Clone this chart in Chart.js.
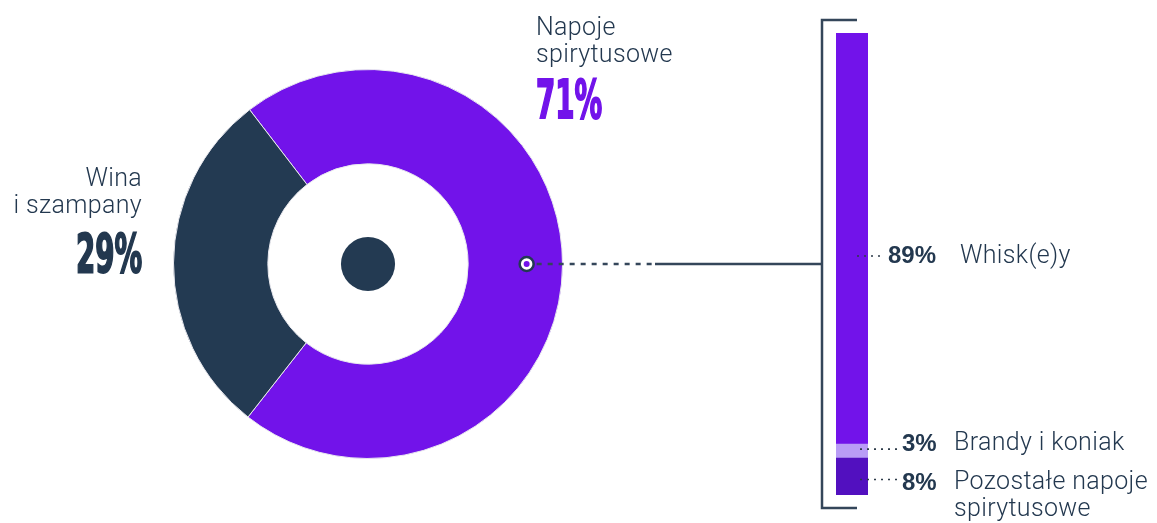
<!DOCTYPE html>
<html>
<head>
<meta charset="utf-8">
<script src="https://cdn.jsdelivr.net/npm/chart.js@4.4.1/dist/chart.umd.min.js"></script>
<style>
  body { margin: 0; background: #fff; }
  #wrap { position: relative; width: 1157px; height: 523px; overflow: hidden; }
  canvas { position: absolute; left: 0; top: 0; }
  .lbl { position: absolute; font-family: Roboto, "Noto Sans", sans-serif; font-weight: 300; color: #23384f; font-size: 25px; letter-spacing: 0.35px; line-height: 27px; white-space: nowrap; }
  .big { position: absolute; font-family: "Liberation Sans Narrow", "DejaVu Sans Condensed", sans-serif; font-weight: 700; font-size: 53px; line-height: 53px; white-space: nowrap; transform: scaleX(0.58); -webkit-text-stroke: 2px currentColor; }
  .pct { position: absolute; font-family: "Liberation Sans", Arial, sans-serif; font-weight: 700; color: #23384f; font-size: 24px; line-height: 28px; white-space: nowrap; }
</style>
</head>
<body>
<div id="wrap">
  <canvas id="donut" width="1157" height="523"></canvas>
  <canvas id="bar" width="1157" height="523"></canvas>

  <div class="lbl" style="left:536px; top:13px;">Napoje<br>spirytusowe</div>
  <div class="big" style="left:536px; top:73px; color:#7213ea; transform-origin:left;">71%</div>

  <div class="lbl" style="right:1015px; top:164px; text-align:right;">Wina<br>i szampany</div>
  <div class="big" style="right:1015px; top:227px; color:#23384f; transform-origin:right;">29%</div>

  <div class="pct" style="left:888px; top:241px;">89%</div>
  <div class="lbl" style="left:960px; top:241px;">Whisk(e)y</div>
  <div class="pct" style="left:902px; top:429px;">3%</div>
  <div class="lbl" style="left:954px; top:428px;">Brandy i koniak</div>
  <div class="pct" style="left:902px; top:468px;">8%</div>
  <div class="lbl" style="left:954px; top:467px;">Pozostałe napoje<br>spirytusowe</div>
</div>

<script>
// main split
const mainLabels = ["Napoje spirytusowe", "Wina i szampany"];
const mainValues = [71, 29];
const mainColors = ["#7213ea", "#233a52"];

// spirits breakdown (bottom to top in the stack)
const spiritLabels = ["Pozostałe napoje spirytusowe", "Brandy i koniak", "Whisk(e)y"];
const spiritValues = [8, 3, 89];
const spiritColors = ["#5210bf", "#b99cf6", "#7213ea"];

const navy = "#233a52";

let donutChart;

// dark dot in the middle of the donut
const centerDot = {
  id: "centerDot",
  afterDatasetsDraw(chart) {
    const arc = chart.getDatasetMeta(0).data[0];
    const ctx = chart.ctx;
    ctx.save();
    ctx.fillStyle = navy;
    ctx.beginPath();
    ctx.arc(arc.x, arc.y, arc.innerRadius * 0.27, 0, Math.PI * 2);
    ctx.fill();
    ctx.restore();
  }
};

donutChart = new Chart(document.getElementById("donut"), {
  type: "doughnut",
  data: {
    labels: mainLabels,
    datasets: [{
      data: mainValues,
      backgroundColor: mainColors,
      borderColor: "#e8e8ee",
      borderWidth: 1
    }]
  },
  options: {
    responsive: false,
    animation: false,
    rotation: -37.5,
    cutout: "51.5%",
    layout: { padding: { left: 173, right: 594, top: 69, bottom: 64 } },
    plugins: { legend: { display: false }, tooltip: { enabled: false } }
  },
  plugins: [centerDot]
});

// bracket, connector and leader lines
const connectors = {
  id: "connectors",
  afterDatasetsDraw(chart) {
    const ctx = chart.ctx;
    const arc = donutChart.getDatasetMeta(0).data[0];
    const mx = arc.x + arc.innerRadius + (arc.outerRadius - arc.innerRadius) * 0.62;
    const my = arc.y;

    const top = chart.getDatasetMeta(2).data[0];
    const mid = chart.getDatasetMeta(1).data[0];
    const bottom = chart.getDatasetMeta(0).data[0];
    const barLeft = top.x - top.width / 2;
    const barRight = top.x + top.width / 2;
    const bx = barLeft - 14;
    const yTop = top.y - 13;
    const yBot = bottom.base + 13;

    ctx.save();
    ctx.strokeStyle = "#34465a";
    ctx.lineWidth = 2.5;

    // bracket
    ctx.beginPath();
    ctx.moveTo(barRight - 11, yTop);
    ctx.lineTo(bx, yTop);
    ctx.lineTo(bx, yBot);
    ctx.lineTo(barRight - 11, yBot);
    ctx.stroke();

    // solid part of connector
    ctx.beginPath();
    ctx.moveTo(655, my);
    ctx.lineTo(bx, my);
    ctx.stroke();

    // dashed part
    ctx.setLineDash([5, 6]);
    ctx.beginPath();
    ctx.moveTo(mx + 10, my);
    ctx.lineTo(655, my);
    ctx.stroke();

    // leader dots to the labels
    ctx.setLineDash([2, 5]);
    ctx.lineWidth = 1.6;
    ctx.strokeStyle = "#2c3a48";
    const leaders = [
      [top.x + 5, 256, 884],
      [top.x + 8, (mid.y + mid.base) / 2 - 2, 897],
      [top.x + 8, (bottom.y + bottom.base) / 2 + 3, 897]
    ];
    leaders.forEach(l => {
      ctx.beginPath();
      ctx.moveTo(l[0], l[1]);
      ctx.lineTo(l[2], l[1]);
      ctx.stroke();
    });
    ctx.setLineDash([]);

    // marker
    ctx.fillStyle = "#fff";
    ctx.strokeStyle = navy;
    ctx.lineWidth = 2.5;
    ctx.beginPath();
    ctx.arc(mx, my, 7, 0, Math.PI * 2);
    ctx.fill();
    ctx.stroke();
    ctx.fillStyle = "#7213ea";
    ctx.beginPath();
    ctx.arc(mx, my, 3, 0, Math.PI * 2);
    ctx.fill();
    ctx.restore();
  }
};

new Chart(document.getElementById("bar"), {
  type: "bar",
  data: {
    labels: ["Napoje spirytusowe"],
    datasets: spiritLabels.map((name, i) => ({
      label: name,
      data: [spiritValues[i]],
      backgroundColor: spiritColors[i],
      borderWidth: 0,
      barPercentage: 1,
      categoryPercentage: 1
    }))
  },
  options: {
    responsive: false,
    animation: false,
    layout: { padding: { left: 836, right: 289, top: 33, bottom: 28 } },
    scales: {
      x: { stacked: true, display: false },
      y: { stacked: true, display: false, min: 0, max: 100 }
    },
    plugins: { legend: { display: false }, tooltip: { enabled: false } }
  },
  plugins: [connectors]
});
</script>
</body>
</html>
